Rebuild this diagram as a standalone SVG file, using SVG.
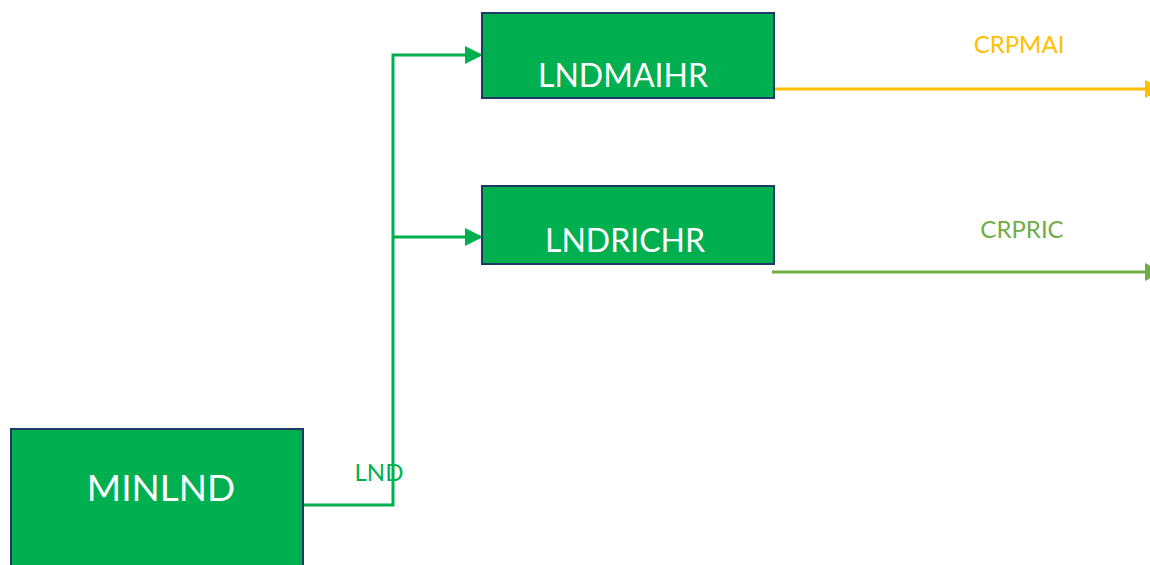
<svg xmlns="http://www.w3.org/2000/svg" width="1150" height="565" viewBox="0 0 1150 565">
  <style>
    .node { fill: #00B050; stroke: #1F3864; stroke-width: 2; }
    .ntxt { fill: #FFFFFF; font-family: Lato, "Open Sans", sans-serif; text-anchor: middle; }
    .flow { fill: none; stroke-width: 3; }
    .lbl { font-family: Lato, "Open Sans", sans-serif; font-size: 24px; text-anchor: middle; }
  </style>
  <defs>
    <marker id="arrGreen" markerWidth="6" markerHeight="6" refX="5" refY="3" orient="auto" markerUnits="strokeWidth">
      <path d="M0,0 L6,3 L0,6 Z" fill="#00B050"/>
    </marker>
    <marker id="arrGold" markerWidth="6" markerHeight="6" refX="5" refY="3" orient="auto" markerUnits="strokeWidth">
      <path d="M0,0 L6,3 L0,6 Z" fill="#FFC000"/>
    </marker>
    <marker id="arrOlive" markerWidth="6" markerHeight="6" refX="5" refY="3" orient="auto" markerUnits="strokeWidth">
      <path d="M0,0 L6,3 L0,6 Z" fill="#70AD47"/>
    </marker>
  </defs>

  <g id="connectors">
    <path class="flow" stroke="#00B050" d="M303,505 L393,505 L393,55 L480,55" marker-end="url(#arrGreen)"/>
    <path class="flow" stroke="#00B050" d="M393,237 L480,237" marker-end="url(#arrGreen)"/>
    <text class="lbl" x="379" y="481" fill="#00B050" font-size="21">LND</text>
    <path class="flow" stroke="#FFC000" d="M775,89 L1160,89" marker-end="url(#arrGold)"/>
    <text class="lbl" x="1019" y="53" fill="#FFC000">CRPMAI</text>
    <path class="flow" stroke="#70AD47" d="M772,272 L1160,272" marker-end="url(#arrOlive)"/>
    <text class="lbl" x="1022" y="238" fill="#70AD47">CRPRIC</text>
  </g>

  <g id="MINLND">
    <rect class="node" x="11" y="429" width="292" height="150"/>
    <text class="ntxt" x="161" y="501" font-size="37">MINLND</text>
  </g>

  <g id="LNDMAIHR">
    <rect class="node" x="482" y="13" width="292" height="85"/>
    <text class="ntxt" x="623" y="87" font-size="32">LNDMAIHR</text>
  </g>

  <g id="LNDRICHR">
    <rect class="node" x="482" y="186" width="292" height="78"/>
    <text class="ntxt" x="625" y="252" font-size="32">LNDRICHR</text>
  </g>
</svg>
